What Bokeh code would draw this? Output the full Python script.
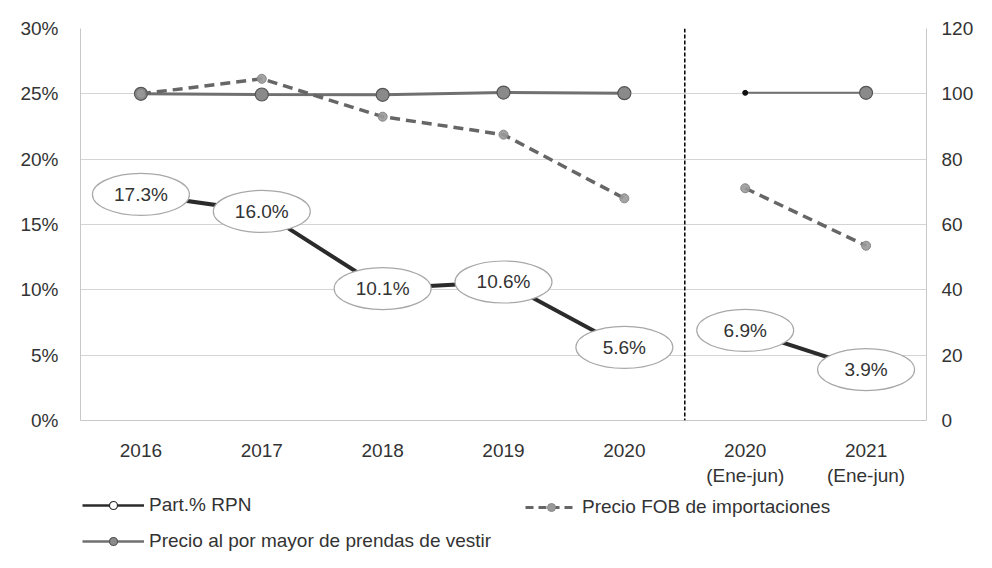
from bokeh.plotting import figure
from bokeh.layouts import column
from bokeh.models import (FactorRange, Range1d, LinearAxis, FixedTicker, Span,
                          Legend, LegendItem, PrintfTickFormatter)
from bokeh.embed import file_html
from bokeh.resources import INLINE
from bokeh.core.properties import value

# ---- data ----
categories = ["2016", "2017", "2018", "2019", "2020", "2020\n(Ene-jun)", "2021\n(Ene-jun)"]
part_rpn = [17.3, 16.0, 10.1, 10.6, 5.6, 6.9, 3.9]
rpn_labels = ["17.3%", "16.0%", "10.1%", "10.6%", "5.6%", "6.9%", "3.9%"]
precio_fob = [100.0, 104.6, 93.0, 87.5, 68.0, 71.1, 53.5]
precio_mayor = [100.0, 99.8, 99.7, 100.4, 100.2, 100.3, 100.3]
left_ticks = [0, 5, 10, 15, 20, 25, 30]
right_ticks = [0, 20, 40, 60, 80, 100, 120]
series_names = ["Part.% RPN", "Precio FOB de importaciones",
                "Precio al por mayor de prendas de vestir"]
n_annual = 5  # first five categories are full years, last two are Jan-Jun

FONT = value("Liberation Sans")
FS = "19px"
TXT = "#333333"

# styles
RPN_STYLE = dict(line_color="#2b2b2b", line_width=4)
FOB_STYLE = dict(line_color="#666666", line_width=3.5, line_dash="10 6")
MAY_STYLE = dict(line_color="#707070", line_width=3)
RPN_PT = dict(size=6, fill_color="white", line_color="#2b2b2b", line_width=1.2)
FOB_PT = dict(size=9, fill_color="#9a9a9a", line_color="#888888", fill_alpha=0.9)
MAY_PT = dict(size=13, fill_color="#8a8a8a", line_color="#555555", line_width=1.2)

p = figure(x_range=FactorRange(factors=categories, range_padding=0),
           y_range=Range1d(0, 30),
           width=976, height=488, output_backend="svg", toolbar_location=None,
           min_border_left=80, min_border_right=42, min_border_top=28,
           min_border_bottom=65)
p.outline_line_color = None
p.background_fill_color = "white"
p.border_fill_color = "white"

p.extra_y_ranges = {"idx": Range1d(0, 120)}

# axes styling
p.yaxis.ticker = FixedTicker(ticks=left_ticks)
p.yaxis.formatter = PrintfTickFormatter(format="%d%%")
for ax in [p.xaxis[0], p.yaxis[0]]:
    ax.major_label_text_font = "Liberation Sans"
    ax.major_label_text_font_size = FS
    ax.major_label_text_color = TXT
    ax.axis_line_color = "#c8c8c8"
    ax.major_tick_line_color = None
    ax.minor_tick_line_color = None
p.yaxis.major_label_standoff = 16
p.xaxis.major_label_standoff = 13

rax = LinearAxis(y_range_name="idx", ticker=FixedTicker(ticks=right_ticks))
rax.major_label_text_font = "Liberation Sans"
rax.major_label_text_font_size = FS
rax.major_label_text_color = TXT
rax.axis_line_color = "#c8c8c8"
rax.major_tick_line_color = None
rax.minor_tick_line_color = None
rax.major_label_standoff = 9
p.add_layout(rax, "right")

p.xgrid.grid_line_color = None
p.ygrid.ticker = FixedTicker(ticks=left_ticks)
p.ygrid.grid_line_color = "#d4d4d4"
p.ygrid.grid_line_width = 1

# separator between annual and Jan-Jun panels
p.add_layout(Span(location=n_annual, dimension="height", line_color="black",
                  line_dash="4 2", line_width=1.5))

a, b = slice(0, n_annual), slice(n_annual, None)

# Precio al por mayor (right axis)
p.line(categories[a], precio_mayor[a], y_range_name="idx", **MAY_STYLE)
p.line(categories[b], precio_mayor[b], y_range_name="idx",
       line_color="#707070", line_width=2)
big_idx = list(range(n_annual)) + [len(categories) - 1]
p.scatter([categories[i] for i in big_idx], [precio_mayor[i] for i in big_idx],
          y_range_name="idx", **MAY_PT)
p.scatter([categories[n_annual]], [precio_mayor[n_annual]], y_range_name="idx",
          size=5, fill_color="#111111", line_color="#111111")

# Precio FOB (right axis)
p.line(categories[a], precio_fob[a], y_range_name="idx", **FOB_STYLE)
p.line(categories[b], precio_fob[b], y_range_name="idx", **FOB_STYLE)
p.scatter(categories, precio_fob, y_range_name="idx", **FOB_PT)

# Part.% RPN (left axis)
p.line(categories[a], part_rpn[a], **RPN_STYLE)
p.line(categories[b], part_rpn[b], **RPN_STYLE)
p.scatter(categories, part_rpn, **RPN_PT)
p.ellipse(x=categories, y=part_rpn, width=97, height=42,
          width_units="screen", height_units="screen",
          fill_color="white", line_color="#a8a8a8", line_width=1.2)
p.text(x=categories, y=part_rpn, text=rpn_labels, text_align="center",
       text_baseline="middle", text_font=FONT, text_font_size=value(FS),
       text_color=TXT)

# ---- legend strip below the chart ----
# (its renderers carry the real series but fall outside this strip's range,
#  so only their legend glyphs are visible)
lg = figure(width=976, height=64, output_backend="svg", toolbar_location=None,
            x_range=FactorRange(factors=categories, range_padding=0),
            y_range=Range1d(-2, -1),
            x_axis_location=None, y_axis_location=None, min_border=0)
lg.outline_line_color = None
lg.grid.visible = False
lg.background_fill_color = "white"
lg.border_fill_color = "white"

l_rpn = [lg.line(categories, part_rpn, line_color="#2b2b2b", line_width=2.5),
         lg.scatter(categories, part_rpn, **RPN_PT)]
l_fob = [lg.line(categories, precio_fob, line_color="#666666", line_width=3,
                 line_dash="8 5"),
         lg.scatter(categories, precio_fob, size=8, fill_color="#9a9a9a",
                    line_color="#888888")]
l_may = [lg.line(categories, precio_mayor, line_color="#707070", line_width=2.5),
         lg.scatter(categories, precio_mayor, size=11, fill_color="#8a8a8a",
                    line_color="#555555", line_width=1.2)]

def mk_legend(items, loc, gw):
    return Legend(items=items, location=loc, orientation="vertical",
                  padding=0, margin=0, spacing=14, border_line_color=None,
                  background_fill_alpha=0, glyph_width=gw, glyph_height=20,
                  label_height=20, label_standoff=5,
                  label_text_font="Liberation Sans", label_text_font_size=FS,
                  label_text_color=TXT)

lg.add_layout(mk_legend([LegendItem(label=series_names[0], renderers=l_rpn),
                         LegendItem(label=series_names[2], renderers=l_may)],
                        (2, 0), 62), "center")
lg.add_layout(mk_legend([LegendItem(label=series_names[1], renderers=l_fob)],
                        (445, 34), 52), "center")

layout = column(p, lg, spacing=0)
open("out.html", "w").write(file_html(layout, INLINE))
